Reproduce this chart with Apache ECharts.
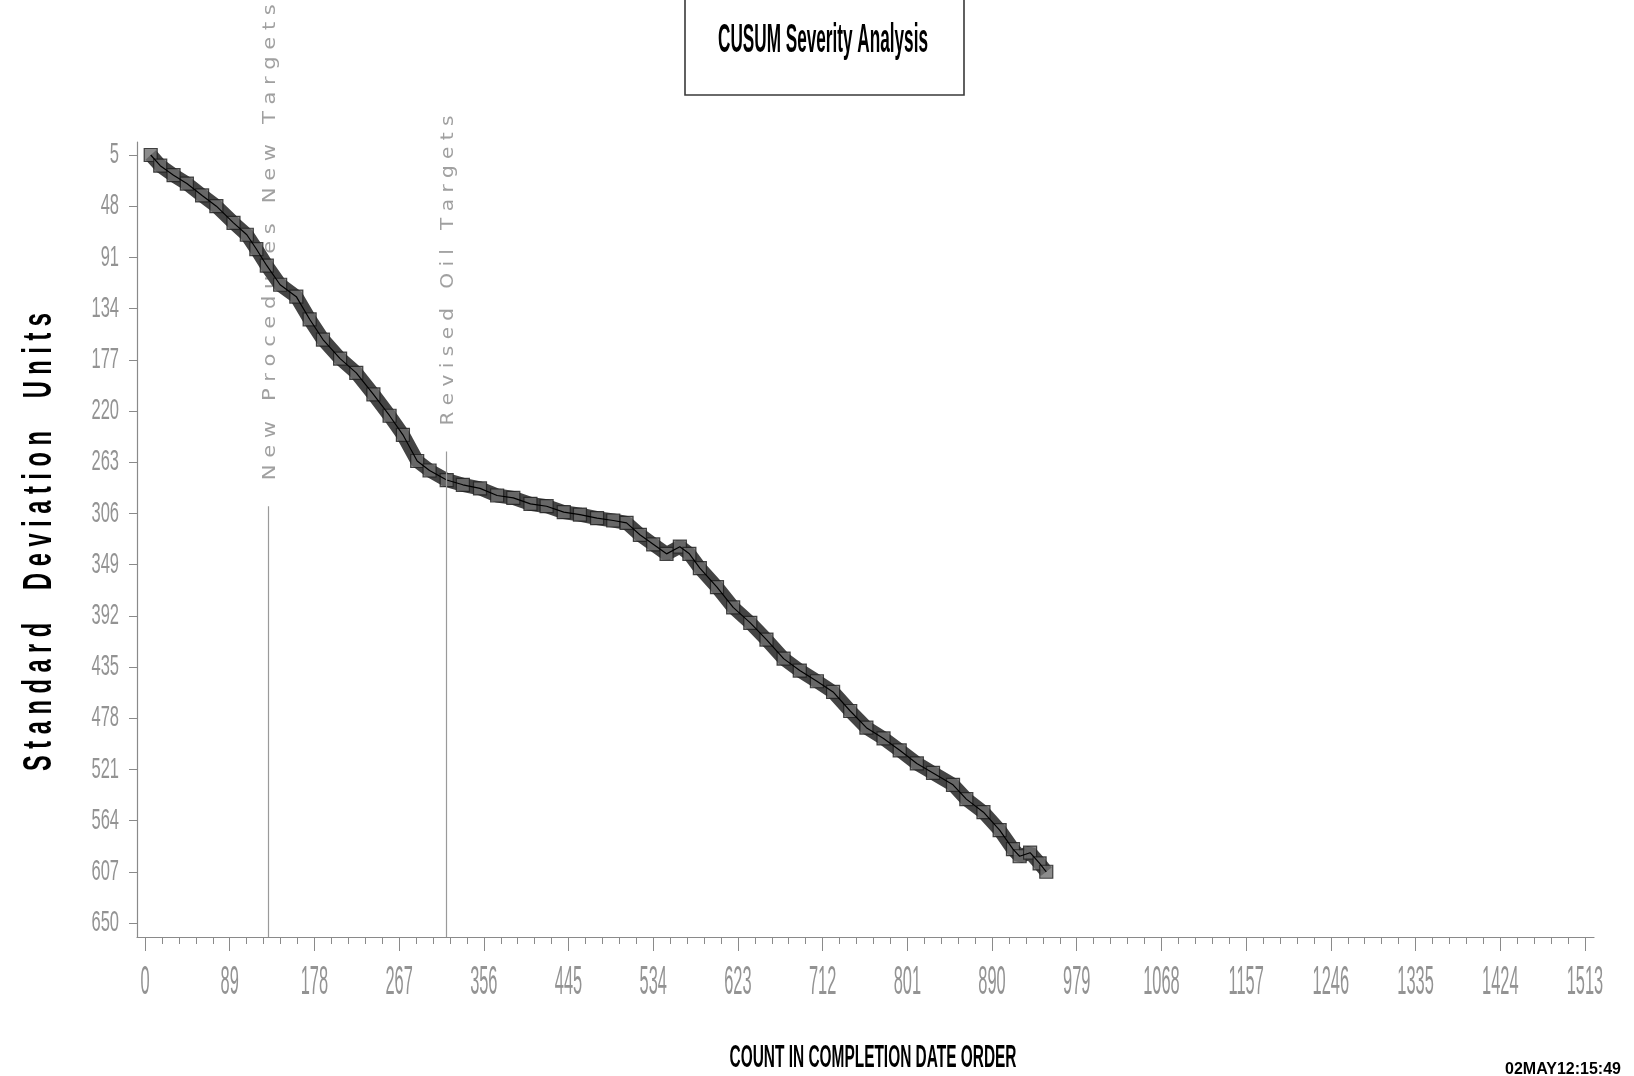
<!DOCTYPE html>
<html>
<head>
<meta charset="utf-8">
<script src="https://cdn.jsdelivr.net/npm/echarts@6/dist/echarts.min.js"></script>
<style>
  html, body { margin: 0; padding: 0; background: #fff; }
  #chart { width: 1634px; height: 1076px; }
</style>
</head>
<body>
<div id="chart"></div>
<script>
// CUSUM readings: count in completion order vs standard deviation units
const counts = [6, 16, 30, 44, 60, 75, 93, 107, 117, 128, 142, 159, 173, 187, 205, 222, 240, 257, 271, 286,
  299, 317, 334, 352, 370, 387, 405, 422, 440, 457, 475, 492, 506, 520, 534, 548, 562, 572, 583, 601,
  618, 636, 653, 671, 688, 706, 723, 741, 758, 776, 793, 811, 828, 849, 863, 881, 898, 912, 919, 930,
  940, 947];
const sdUnits = [5, 14, 22, 29, 39, 48, 62, 72, 84, 98, 114, 124, 143, 160, 176, 188, 206, 224, 240, 262,
  270, 278, 282, 285, 291, 293, 298, 300, 305, 307, 310, 312, 314, 324, 332, 340, 334, 340, 352, 368,
  385, 398, 412, 428, 438, 447, 456, 472, 486, 495, 505, 516, 524, 534, 546, 557, 572, 588, 594, 591,
  600, 607];

const xTicks = [0, 89, 178, 267, 356, 445, 534, 623, 712, 801, 890, 979, 1068, 1157, 1246, 1335, 1424, 1513];
const yTicks = [5, 48, 91, 134, 177, 220, 263, 306, 349, 392, 435, 478, 521, 564, 607, 650];

// reference events
const refCounts = [130, 317];
const refTops = [300, 254];
const refLabels = ["New Procedures New Targets", "Revised Oil Targets"];

const xMin = -8.4, xMax = 1522.5;
const yMin = -5.9, yMax = 661.8;
const minorTicks = Array.from({ length: 86 }, (_, i) => +(i * 17.8).toFixed(1));

const points = counts.map((c, i) => [c, sdUnits[i]]);

const measureCtx = document.createElement("canvas").getContext("2d");
function textWidth(str, font) {
  measureCtx.font = font;
  return measureCtx.measureText(str).width;
}
function spaced(str) {
  return str.split("").join(" ");
}

const sansFamily = "'Liberation Sans', Arial, sans-serif";
const axisGrey = "#8a8a8a";
const labelGrey = "#939393";

const chart = echarts.init(document.getElementById("chart"));

chart.setOption({
  animation: false,
  backgroundColor: "#fff",
  grid: { left: 137, right: 40, top: 142, bottom: 139 },
  xAxis: [
    {
      type: "value",
      position: "bottom",
      min: xMin,
      max: xMax,
      axisLine: { onZero: false, lineStyle: { color: axisGrey, width: 1.2 } },
      axisTick: { customValues: xTicks, length: 14, lineStyle: { color: axisGrey } },
      axisLabel: { show: false },
      splitLine: { show: false }
    },
    {
      type: "value",
      position: "bottom",
      min: xMin,
      max: xMax,
      axisLine: { show: false, onZero: false },
      axisTick: { customValues: minorTicks, length: 7, lineStyle: { color: axisGrey } },
      axisLabel: { show: false },
      splitLine: { show: false }
    }
  ],
  yAxis: {
    type: "value",
    inverse: true,
    min: yMin,
    max: yMax,
    axisLine: { show: true, onZero: false, lineStyle: { color: axisGrey, width: 1.2 } },
    axisTick: { show: true, customValues: yTicks, length: 8, lineStyle: { color: axisGrey } },
    axisLabel: { show: false },
    splitLine: { show: false }
  },
  series: [
    {
      type: "line",
      data: points,
      showSymbol: false,
      lineStyle: { color: "#444", width: 14 },
      z: 2,
      markLine: {
        silent: true,
        symbol: "none",
        label: { show: false },
        lineStyle: { color: "#9a9a9a", width: 1.2, type: "solid" },
        data: refCounts.map((c, i) => [{ coord: [c, refTops[i]] }, { coord: [c, yMax] }])
      }
    },
    {
      type: "scatter",
      data: points,
      symbol: "rect",
      symbolSize: 13,
      itemStyle: { color: "#707070", borderColor: "#1e1e1e", borderWidth: 1.2 },
      z: 3
    },
    {
      type: "line",
      data: points,
      showSymbol: false,
      lineStyle: { color: "#000", width: 1.2 },
      z: 4
    }
  ]
});

// tick labels, placed through the axes, drawn condensed like the original
const yLabelFont = "normal 30px " + sansFamily;
const xLabelFont = "normal 40px " + sansFamily;
const graphics = [];

yTicks.forEach((v) => {
  const p = chart.convertToPixel({ xAxisIndex: 0, yAxisIndex: 0 }, [xMin, v]);
  graphics.push({
    type: "text",
    x: p[0] - 18,
    y: p[1],
    scaleX: 0.55,
    style: { text: String(v), font: yLabelFont, fill: labelGrey, align: "right", verticalAlign: "middle" }
  });
});

xTicks.forEach((v) => {
  const p = chart.convertToPixel({ xAxisIndex: 0, yAxisIndex: 0 }, [v, yMax]);
  graphics.push({
    type: "text",
    x: p[0],
    y: p[1] + 46,
    scaleX: 0.41,
    style: { text: String(v), font: xLabelFont, fill: labelGrey, align: "center", verticalAlign: "middle" }
  });
});

// titles and annotations
const titleText = "CUSUM Severity Analysis";
const titleFont = "bold 41px " + sansFamily;
const xTitle = "COUNT IN COMPLETION DATE ORDER";
const xTitleFont = "bold 32px " + sansFamily;
const yTitle = "Standard  Deviation  Units";
const yTitleFont = "bold 40px " + sansFamily;
const refFont = "normal 18px 'DejaVu Sans', sans-serif";

graphics.push(
  {
    type: "rect",
    shape: { x: 685, y: -5, width: 279, height: 100 },
    style: { fill: "none", stroke: "#3a3a3a", lineWidth: 1.6 }
  },
  {
    type: "text",
    x: 823, y: 41,
    scaleX: 210 / textWidth(titleText, titleFont),
    style: { text: titleText, font: titleFont, fill: "#000", align: "center", verticalAlign: "middle" }
  },
  {
    type: "text",
    x: 873, y: 1058,
    scaleX: 287 / textWidth(xTitle, xTitleFont),
    style: { text: xTitle, font: xTitleFont, fill: "#000", align: "center", verticalAlign: "middle" }
  },
  {
    type: "text",
    x: 40, y: 542,
    rotation: Math.PI / 2,
    scaleX: 458 / textWidth(spaced(yTitle), yTitleFont),
    style: { text: spaced(yTitle), font: yTitleFont, fill: "#000", align: "center", verticalAlign: "middle" }
  },
  {
    type: "text",
    x: 1505, y: 1062,
    style: { text: "02MAY12:15:49", font: "bold 16px " + sansFamily, fill: "#000", align: "left", verticalAlign: "top" }
  }
);

const refLengths = [476, 310];
refCounts.forEach((c, i) => {
  const p = chart.convertToPixel({ xAxisIndex: 0, yAxisIndex: 0 }, [c, refTops[i]]);
  const str = spaced(refLabels[i]);
  graphics.push({
    type: "text",
    x: p[0] + 2,
    y: p[1] - 26,
    rotation: Math.PI / 2,
    scaleX: refLengths[i] / textWidth(str, refFont),
    style: { text: str, font: refFont, fill: "#a0a0a0", align: "left", verticalAlign: "middle" }
  });
});

chart.setOption({ graphic: graphics });
</script>
</body>
</html>
